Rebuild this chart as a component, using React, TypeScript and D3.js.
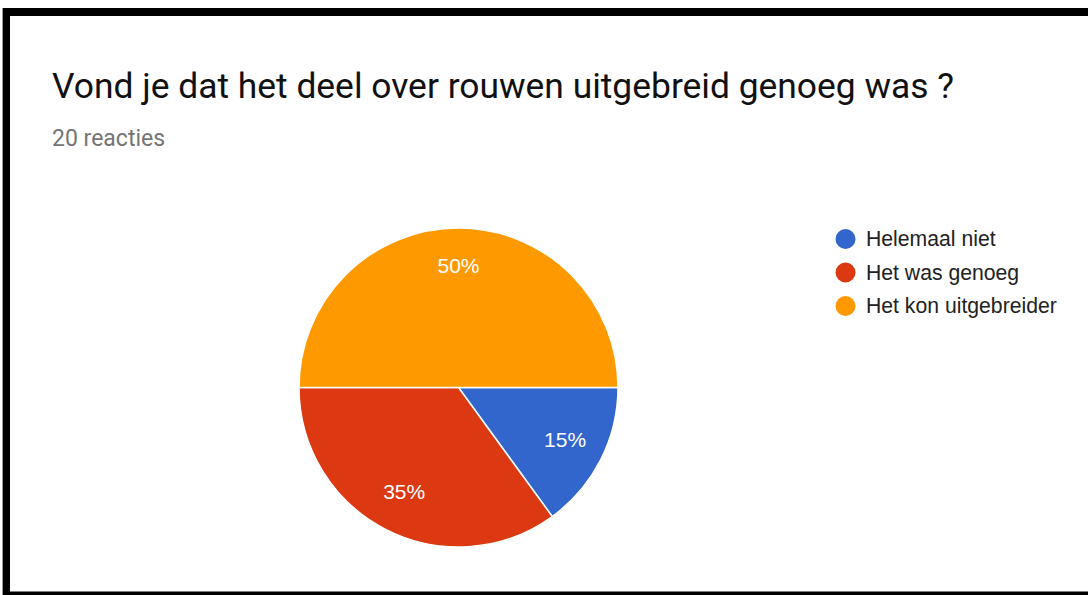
import React from "react";
import * as d3 from "d3";

const categories = ["Helemaal niet", "Het was genoeg", "Het kon uitgebreider"];
const counts = [3, 7, 10];
const colors = ["#3366cc", "#dc3912", "#ff9900"];
const title = "Vond je dat het deel over rouwen uitgebreid genoeg was ?";
const subtitle = "20 reacties";

export default function App() {
  const W = 1088, H = 595;
  const cx = 458.5, cy = 387.5, r = 159.5;
  const total = d3.sum(counts);
  const pie = d3.pie<number>().sort(null).startAngle(Math.PI / 2).endAngle(Math.PI / 2 + 2 * Math.PI);
  const arcs = pie(counts);
  const arcGen = d3.arc<d3.PieArcDatum<number>>().innerRadius(0).outerRadius(r);
  const labelArc = d3.arc<d3.PieArcDatum<number>>().innerRadius(r * 0.75).outerRadius(r * 0.75);
  const fmt = d3.format(".0%");
  const legendY = d3.scalePoint<string>().domain(categories).range([239, 306]);
  return (
    <svg width={W} height={H} style={{ position: "absolute", left: 0, top: 0, background: "#fff" }}>
      <rect x={0} y={0} width={W} height={H} fill="#fff" />
      <rect x={2} y={8} width={1} height={H - 8} fill="#9e9e9e" />
      <rect x={3} y={8} width={W - 3} height={8} fill="#000" />
      <rect x={3} y={8} width={7} height={H - 8} fill="#000" />
      <rect x={3} y={591.5} width={W - 3} height={4} fill="#000" />
      <text x={52} y={98} fontFamily="Roboto" fontSize={35.4} fill="#111">{title}</text>
      <text x={52} y={146} fontFamily="Roboto" fontSize={23} fill="#757575">{subtitle}</text>
      <g transform={`translate(${cx},${cy})`}>
        {arcs.map((a, i) => (
          <path key={i} d={arcGen(a) || ""} fill={colors[i]} stroke="#fff" strokeWidth={1.5} />
        ))}
        {arcs.map((a, i) => {
          const [lx, ly] = labelArc.centroid(a);
          return (
            <text key={i} x={lx} y={ly} dy="0.25em" textAnchor="middle" fontFamily="Arial, Liberation Sans" fontSize={21} fill="#fff">
              {fmt(counts[i] / total)}
            </text>
          );
        })}
      </g>
      {categories.map((c, i) => (
        <g key={c} transform={`translate(0,${legendY(c)})`}>
          <circle cx={845.5} cy={0} r={10} fill={colors[i]} />
          <text x={866} y={0} dy="0.35em" fontFamily="Arial, Liberation Sans" fontSize={21.2} fill="#222">{c}</text>
        </g>
      ))}
    </svg>
  );
}
